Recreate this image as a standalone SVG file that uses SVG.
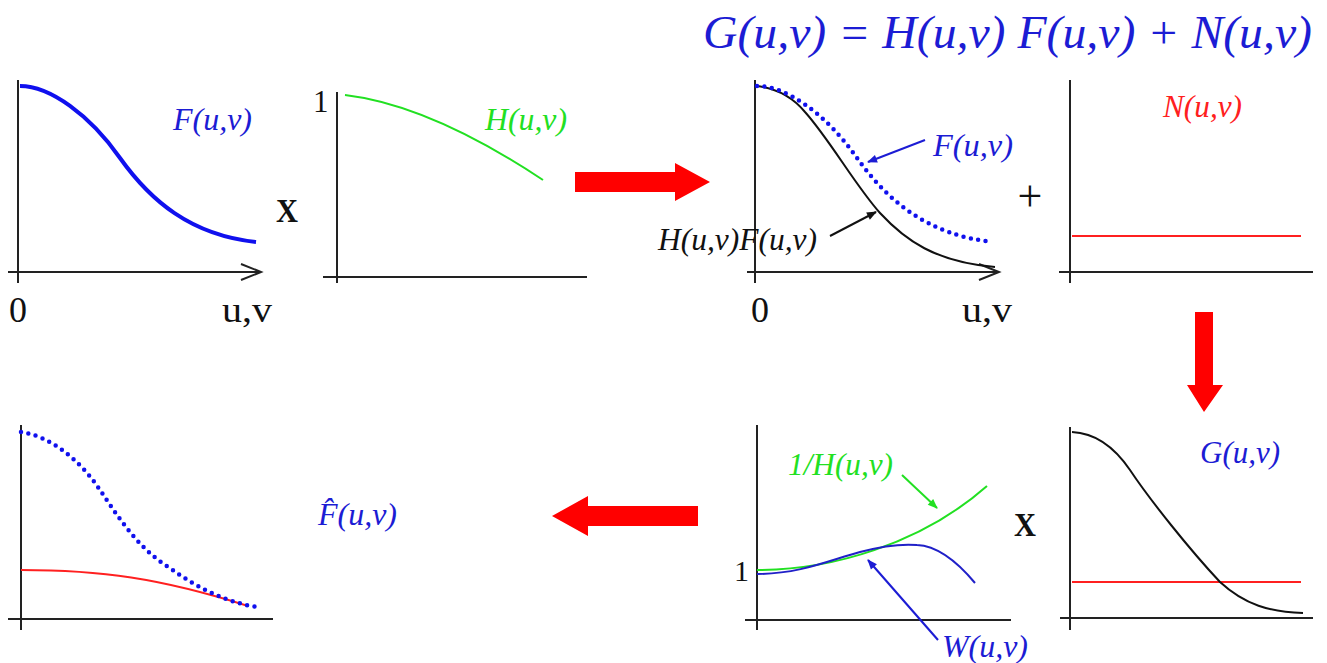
<svg xmlns="http://www.w3.org/2000/svg" width="1327" height="663" viewBox="0 0 1327 663">
<style>
.ax{stroke:#222;stroke-width:2;fill:none}
.lbl{font-family:"Liberation Serif",serif;font-style:italic;font-size:32px}
.num{font-family:"Liberation Serif",serif;font-size:36px;fill:#111}
.mul{font-family:"Liberation Serif",serif;font-size:34px;font-weight:bold;fill:#111}
.blue{fill:#1c1cd4}
.dot{fill:none;stroke:#1010ee;stroke-width:4.5;stroke-linecap:round;stroke-dasharray:0 7.5}
.big{fill:#ff0000}
</style>
<defs>
<marker id="ahb" viewBox="0 0 10 10" refX="9" refY="5" markerWidth="12" markerHeight="10" orient="auto" markerUnits="userSpaceOnUse">
<path d="M0,1 L10,5 L0,9 z" fill="#1c1cd4"/>
</marker>
<marker id="ahk" viewBox="0 0 10 10" refX="9" refY="5" markerWidth="12" markerHeight="10" orient="auto" markerUnits="userSpaceOnUse">
<path d="M0,1 L10,5 L0,9 z" fill="#111"/>
</marker>
<marker id="ahg" viewBox="0 0 10 10" refX="9" refY="5" markerWidth="12" markerHeight="10" orient="auto" markerUnits="userSpaceOnUse">
<path d="M0,1 L10,5 L0,9 z" fill="#22e022"/>
</marker>
</defs>
<rect width="1327" height="663" fill="#fff"/>

<g id="title">
<text x="703" y="48" class="lbl blue" style="font-size:46px" textLength="609" lengthAdjust="spacingAndGlyphs">G(u,v) = H(u,v) F(u,v) + N(u,v)</text>
</g>

<g id="panel-F">
<line class="ax" x1="18" y1="80" x2="18" y2="283"/>
<line class="ax" x1="8" y1="272" x2="260" y2="272"/>
<path class="ax" d="M241,264 L261,272 L241,280" stroke-width="3"/>
<path d="M20,86 C50,86 90,115 120,158 C150,200 190,235 256,242" fill="none" stroke="#1010ee" stroke-width="4"/>
<text x="173" y="130" class="lbl blue" textLength="79" lengthAdjust="spacingAndGlyphs">F(u,v)</text>
<text x="9" y="322" class="num">0</text>
<text x="222" y="322" class="num" textLength="50" lengthAdjust="spacingAndGlyphs">u,v</text>
</g>

<g id="times-1">
<text x="276" y="222" class="mul" textLength="22" lengthAdjust="spacingAndGlyphs">X</text>
</g>

<g id="panel-H">
<line class="ax" x1="337" y1="92" x2="337" y2="283"/>
<line class="ax" x1="323" y1="277" x2="587" y2="277"/>
<path d="M345,95 Q430,105 543,180" fill="none" stroke="#22e022" stroke-width="2"/>
<text x="485" y="130" class="lbl" fill="#22e022" textLength="82" lengthAdjust="spacingAndGlyphs">H(u,v)</text>
<text x="313" y="112" class="num" style="font-size:31px">1</text>
</g>

<g id="panel-HF">
<line class="ax" x1="755" y1="80" x2="755" y2="283"/>
<line class="ax" x1="747" y1="272" x2="998" y2="272"/>
<path class="ax" d="M979,264 L999,272 L979,280" stroke-width="3"/>
<path d="M757,86 C780,89 795,100 805,112 C830,140 855,185 880,213 C905,240 935,262 995,267" fill="none" stroke="#111" stroke-width="2"/>
<path class="dot" d="M757,86 C787,86 827,115 857,158 C887,200 927,235 993,242"/>
<text x="933" y="156" class="lbl blue" textLength="80" lengthAdjust="spacingAndGlyphs">F(u,v)</text>
<text x="658" y="250" class="lbl" fill="#111" textLength="159" lengthAdjust="spacingAndGlyphs">H(u,v)F(u,v)</text>
<text x="751" y="322" class="num">0</text>
<text x="962" y="322" class="num" textLength="50" lengthAdjust="spacingAndGlyphs">u,v</text>
</g>

<g id="plus">
<text x="1030" y="211" class="num" style="font-size:44px" text-anchor="middle">+</text>
</g>

<g id="panel-N">
<line class="ax" x1="1070" y1="80" x2="1070" y2="283"/>
<line class="ax" x1="1059" y1="272" x2="1313" y2="272"/>
<line x1="1072" y1="236" x2="1301" y2="236" stroke="#ff2020" stroke-width="2"/>
<text x="1163" y="117" class="lbl" fill="#ff2020" textLength="79" lengthAdjust="spacingAndGlyphs">N(u,v)</text>
</g>

<g id="panel-G">
<line class="ax" x1="1070" y1="427" x2="1070" y2="630"/>
<line class="ax" x1="1060" y1="618" x2="1313" y2="618"/>
<line x1="1072" y1="582" x2="1301" y2="582" stroke="#ff2020" stroke-width="2"/>
<path d="M1072,432 C1095,433 1115,448 1130,470 C1150,500 1190,550 1220,582 C1245,605 1270,612 1303,613" fill="none" stroke="#111" stroke-width="2"/>
<text x="1200" y="463" class="lbl blue" textLength="80" lengthAdjust="spacingAndGlyphs">G(u,v)</text>
</g>

<g id="times-2">
<text x="1014" y="536" class="mul" textLength="22" lengthAdjust="spacingAndGlyphs">X</text>
</g>

<g id="panel-W">
<line class="ax" x1="757" y1="425" x2="757" y2="630"/>
<line class="ax" x1="745" y1="620" x2="1011" y2="620"/>
<path d="M757,570 C830,570 920,545 987,486" fill="none" stroke="#22e022" stroke-width="2"/>
<path d="M757,574 C800,574 830,560 860,552 C890,544 905,544 917,545 C940,546 960,565 975,583" fill="none" stroke="#2020c8" stroke-width="2"/>
<text x="788" y="475" class="lbl" fill="#22e022" textLength="105" lengthAdjust="spacingAndGlyphs">1/H(u,v)</text>
<text x="942" y="657" class="lbl blue" textLength="86" lengthAdjust="spacingAndGlyphs">W(u,v)</text>
<text x="734" y="581" class="num" style="font-size:30px">1</text>
</g>

<g id="panel-Fhat">
<line class="ax" x1="21" y1="425" x2="21" y2="630"/>
<line class="ax" x1="8" y1="619" x2="273" y2="619"/>
<path d="M21,570 C100,570 160,578 248,606" fill="none" stroke="#ff2020" stroke-width="2"/>
<path class="dot" d="M21,432 C50,436 80,460 100,490 C120,520 140,550 170,568 C200,590 230,603 257,607"/>
<text x="318" y="525" class="lbl blue" textLength="79" lengthAdjust="spacingAndGlyphs">F̂(u,v)</text>
</g>

<g id="connectors">
<path class="big" d="M575,172 L675,172 L675,163 L710,182 L675,201 L675,192 L575,192 z"/>
<path class="big" d="M1195,312 L1213,312 L1213,385 L1223,385 L1204,412 L1187,385 L1195,385 z"/>
<path class="big" d="M698,506 L588,506 L588,496 L552,516 L588,536 L588,526 L698,526 z"/>
<line x1="925" y1="140" x2="868" y2="162" stroke="#1c1cd4" stroke-width="2" marker-end="url(#ahb)"/>
<line x1="830" y1="236" x2="876" y2="212" stroke="#111" stroke-width="2" marker-end="url(#ahk)"/>
<line x1="902" y1="475" x2="937" y2="508" stroke="#22e022" stroke-width="2" marker-end="url(#ahg)"/>
<line x1="938" y1="640" x2="868" y2="560" stroke="#1c1cd4" stroke-width="2" marker-end="url(#ahb)"/>
</g>
</svg>
